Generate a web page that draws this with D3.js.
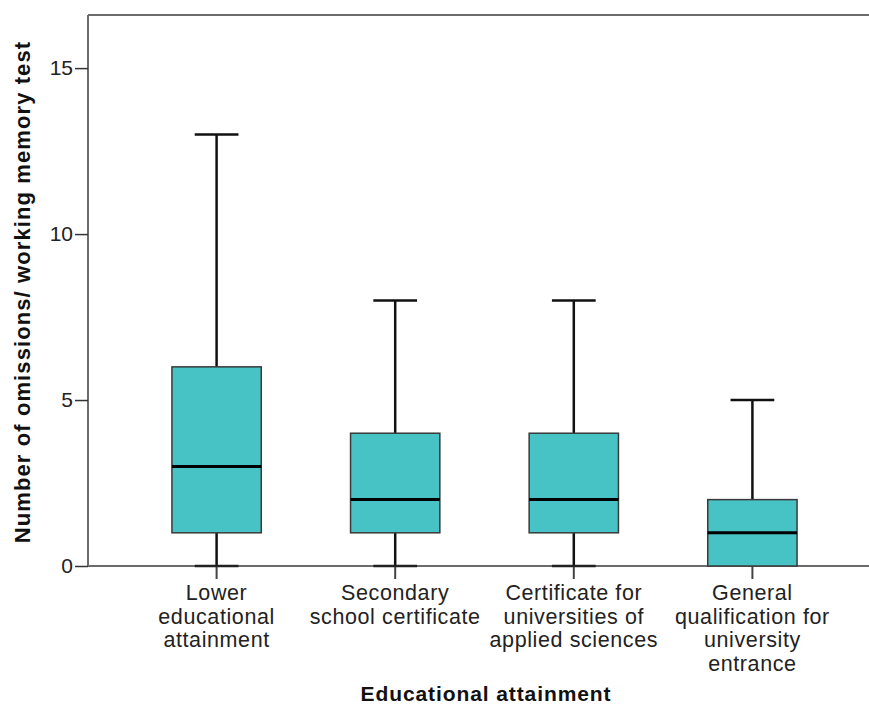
<!DOCTYPE html>
<html>
<head>
<meta charset="utf-8">
<script src="https://cdn.jsdelivr.net/npm/d3@7"></script>
<style>
  html, body { margin: 0; padding: 0; background: #fff; }
  svg { display: block; font-family: "Liberation Sans", Arial, Helvetica, sans-serif; }
</style>
</head>
<body>
<svg id="chart" width="869" height="704"></svg>
<script>
// Box-plot summaries per educational attainment group
const categories = [
  ["Lower", "educational", "attainment"],
  ["Secondary", "school certificate"],
  ["Certificate for", "universities of", "applied sciences"],
  ["General", "qualification for", "university", "entrance"]
];
const mins    = [0, 0, 0, 0];
const q1s     = [1, 1, 1, 0];
const medians = [3, 2, 2, 1];
const q3s     = [6, 4, 4, 2];
const maxs    = [13, 8, 8, 5];
const yTicks  = [0, 5, 10, 15];

const svg = d3.select("#chart");
const plotLeft = 88, plotTop = 15, plotBottom = 566, plotRight = 881;

const keys = categories.map((c, i) => "g" + i);
const x = d3.scaleBand().domain(keys).range([plotLeft, plotRight])
  .paddingInner(0.5).paddingOuter(0.47);
const y = d3.scaleLinear().domain([0, 16.6]).range([plotBottom, plotTop]);

const boxes = keys.map((k, i) => ({
  key: k, min: mins[i], q1: q1s[i], med: medians[i], q3: q3s[i], max: maxs[i]
}));

// Frame: top border line
svg.append("line")
  .attr("x1", plotLeft).attr("x2", 869)
  .attr("y1", plotTop).attr("y2", plotTop)
  .attr("stroke", "#6b6b6b").attr("stroke-width", 2);

// Y axis
const yAxis = svg.append("g")
  .attr("transform", `translate(${plotLeft},0)`)
  .call(d3.axisLeft(y).tickValues(yTicks).tickSize(13).tickPadding(2).tickSizeOuter(0));
yAxis.select(".domain").attr("stroke", "#6b6b6b").attr("stroke-width", 2)
  .attr("d", `M0,${plotTop}V${plotBottom}`);
yAxis.selectAll(".tick line").attr("stroke", "#333").attr("stroke-width", 1.5);
yAxis.selectAll(".tick text").attr("fill", "#222")
  .style("font-size", "21px").style("font-family", "'Liberation Sans', Arial, sans-serif");

// X axis
const xAxis = svg.append("g")
  .attr("transform", `translate(0,${plotBottom})`)
  .call(d3.axisBottom(x).tickSize(13).tickSizeOuter(0).tickFormat(""));
xAxis.select(".domain").attr("stroke", "#6b6b6b").attr("stroke-width", 2)
  .attr("d", `M${plotLeft},0H869`);
xAxis.selectAll(".tick line").attr("stroke", "#444").attr("stroke-width", 2);

// Multi-line category labels
xAxis.selectAll(".tick").each(function(k, i) {
  const t = d3.select(this).append("text")
    .attr("fill", "#222")
    .attr("text-anchor", "middle")
    .style("font-size", "21.5px")
    .style("letter-spacing", "0.6px")
    .style("font-family", "'Liberation Sans', Arial, sans-serif");
  categories[i].forEach((line, j) => {
    t.append("tspan").attr("x", 0).attr("y", 34 + j * 23.5).text(line);
  });
});

// Whiskers (drawn before the boxes so the box covers the stem)
const g = svg.append("g");
const bw = x.bandwidth();
const capW = bw * 0.49;
boxes.forEach(b => {
  const cx = x(b.key) + bw / 2;
  if (b.max > b.q3) {
    g.append("line").attr("x1", cx).attr("x2", cx)
      .attr("y1", y(b.q3)).attr("y2", y(b.max))
      .attr("stroke", "#111").attr("stroke-width", 2.5);
    g.append("line").attr("x1", cx - capW / 2).attr("x2", cx + capW / 2)
      .attr("y1", y(b.max)).attr("y2", y(b.max))
      .attr("stroke", "#111").attr("stroke-width", 2.5);
  }
  if (b.q1 > b.min) {
    g.append("line").attr("x1", cx).attr("x2", cx)
      .attr("y1", y(b.q1)).attr("y2", y(b.min))
      .attr("stroke", "#111").attr("stroke-width", 2.5);
    g.append("line").attr("x1", cx - capW / 2).attr("x2", cx + capW / 2)
      .attr("y1", y(b.min)).attr("y2", y(b.min))
      .attr("stroke", "#222").attr("stroke-width", 2.5);
  }
});

// Boxes
g.selectAll("rect.box").data(boxes).join("rect")
  .attr("class", "box")
  .attr("x", d => x(d.key))
  .attr("width", bw)
  .attr("y", d => y(d.q3))
  .attr("height", d => y(d.q1) - y(d.q3))
  .attr("fill", "#47c2c5")
  .attr("stroke", "#3a3a3a")
  .attr("stroke-width", 1.5);

// Medians
g.selectAll("line.med").data(boxes).join("line")
  .attr("class", "med")
  .attr("x1", d => x(d.key)).attr("x2", d => x(d.key) + bw)
  .attr("y1", d => y(d.med)).attr("y2", d => y(d.med))
  .attr("stroke", "#000").attr("stroke-width", 3);

// Axis titles
svg.append("text")
  .attr("x", 486).attr("y", 701)
  .attr("text-anchor", "middle")
  .attr("fill", "#111")
  .style("font-size", "21px").style("font-weight", "bold")
  .style("letter-spacing", "0.9px")
  .text("Educational attainment");

svg.append("text")
  .attr("transform", `translate(30,292) rotate(-90)`)
  .attr("text-anchor", "middle")
  .attr("fill", "#111")
  .style("font-size", "22px").style("font-weight", "bold")
  .style("letter-spacing", "1.1px")
  .text("Number of omissions/ working memory test");
</script>
</body>
</html>
